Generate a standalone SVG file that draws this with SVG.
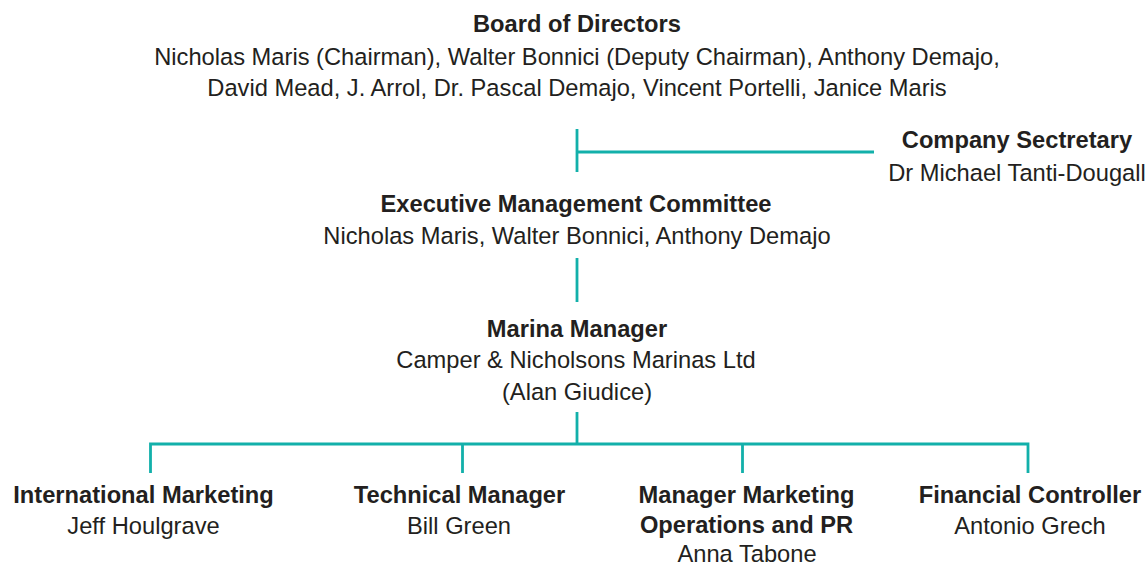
<svg xmlns="http://www.w3.org/2000/svg" width="1146" height="567" viewBox="0 0 1146 567">
<style>
text{font-family:"Liberation Sans",Arial,Helvetica,sans-serif;font-size:23.7px;fill:#231f20;text-anchor:middle}
.b{font-weight:bold}
.c{fill:none;stroke:#12b0aa;stroke-width:2.8}
</style>
<rect width="1146" height="567" fill="#ffffff"/>
<g id="connectors">
<path class="c" d="M577 129V172M577 152H874"/>
<path class="c" d="M577 258V302"/>
<path class="c" d="M577 412V444M150.5 473V444H1028V473M462.5 444V473M742.5 444V473"/>
</g>
<g id="board">
<text class="b" x="577" y="32">Board of Directors</text>
<text x="577" y="65">Nicholas Maris (Chairman), Walter Bonnici (Deputy Chairman), Anthony Demajo,</text>
<text x="577" y="96">David Mead, J. Arrol, Dr. Pascal Demajo, Vincent Portelli, Janice Maris</text>
</g>
<g id="secretary">
<text class="b" x="1017" y="148">Company Sectretary</text>
<text x="1017" y="181">Dr Michael Tanti-Dougall</text>
</g>
<g id="executive">
<text class="b" x="576" y="212">Executive Management Committee</text>
<text x="577" y="244">Nicholas Maris, Walter Bonnici, Anthony Demajo</text>
</g>
<g id="marina">
<text class="b" x="577" y="337">Marina Manager</text>
<text x="576" y="368">Camper &amp; Nicholsons Marinas Ltd</text>
<text x="577" y="400">(Alan Giudice)</text>
</g>
<g id="international">
<text class="b" x="143.5" y="503">International Marketing</text>
<text x="143.5" y="534">Jeff Houlgrave</text>
</g>
<g id="technical">
<text class="b" x="459.5" y="503">Technical Manager</text>
<text x="459" y="534">Bill Green</text>
</g>
<g id="marketing">
<text class="b" x="746.5" y="503">Manager Marketing</text>
<text class="b" x="746.5" y="533">Operations and PR</text>
<text x="747" y="562">Anna Tabone</text>
</g>
<g id="financial">
<text class="b" x="1030" y="503">Financial Controller</text>
<text x="1030" y="534">Antonio Grech</text>
</g>
</svg>
